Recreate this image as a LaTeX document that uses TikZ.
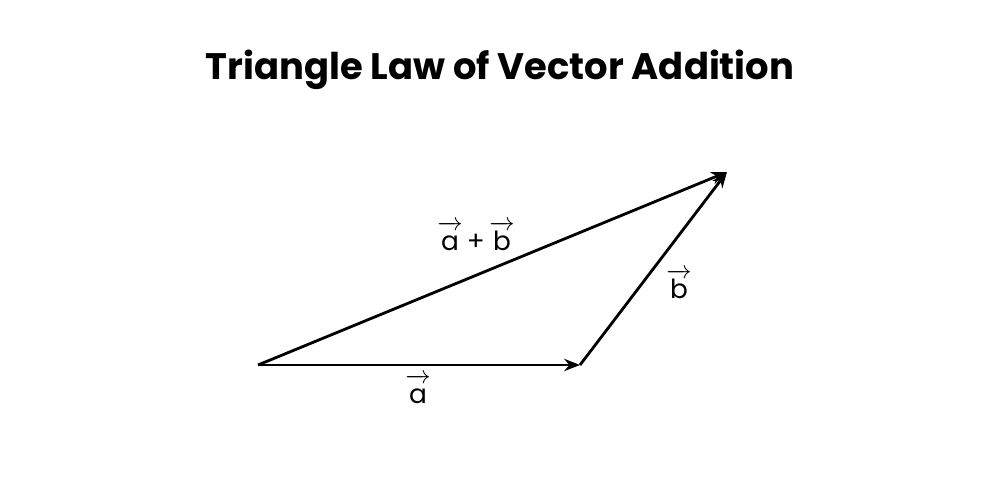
\documentclass[tikz,border=0pt]{standalone}
\usepackage{amsmath}
\usepackage{fontspec}
\setmainfont{Poppins}
\usetikzlibrary{arrows.meta}
\newcommand{\vecarr}[1]{$\overrightarrow{\hbox{\kern1.5pt\vphantom{b}#1\kern1.5pt}}$}

\begin{document}
\begin{tikzpicture}[x=0.02cm,y=0.02cm,
		vecline/.style={-{Stealth[length=9pt,width=7pt]}, line width=1.6pt, color=black},
		veclabel/.style={font=\fontsize{15}{18}\selectfont}]
			\useasboundingbox (0,0) rectangle (1000,501);
			\node[font=\fontsize{21}{25}\selectfont\bfseries] (title) at (500,431){Triangle Law of Vector Addition};
			\coordinate (O) at (258,136);
			\coordinate (P) at (580,136);
			\coordinate (Q) at (727,329);
			\draw (O) edge [vecline] (P);
			\draw (P) edge [vecline] (Q);
			\draw (O) edge [vecline] (Q);
			\node[veclabel] (la) at (418,112){\vecarr{a}};
			\node[veclabel] (lb) at (679,217){\vecarr{b}};
			\node[veclabel] (lab) at (476,265){\vecarr{a}\,+\,\vecarr{b}};
		\end{tikzpicture}
\end{document}
